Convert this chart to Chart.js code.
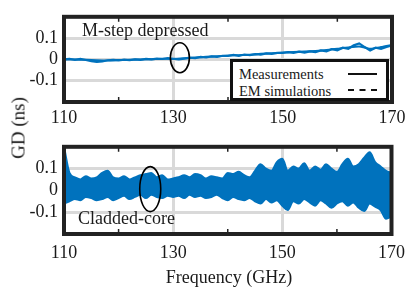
<!DOCTYPE html>
<html>
<head>
<meta charset="utf-8">
<script src="https://cdn.jsdelivr.net/npm/chart.js@4/dist/chart.umd.min.js"></script>
<style>
  body { margin: 0; background: #fff; width: 413px; height: 298px; position: relative; overflow: hidden;
         font-family: "Liberation Serif", "Times New Roman", serif; color: #1a1a1a; }
  canvas { position: absolute; left: 0; }
  .txt { position: absolute; white-space: nowrap; font-size: 18px; line-height: 1; }
  #legend { position: absolute; left: 230px; top: 59px; width: 159px; height: 42px; box-sizing: border-box;
            border: 3px solid #111; background: #fff; }
  #legend .lab { position: absolute; left: 6px; font-size: 14.5px; line-height: 1; white-space: nowrap; }
  #legend .sw { position: absolute; left: 115px; width: 29px; height: 0; }
</style>
</head>
<body>
<canvas id="top" width="413" height="130" style="top:0"></canvas>
<canvas id="bottom" width="413" height="168" style="top:130px"></canvas>

<div class="txt" style="left:82px;top:21px">M-step depressed</div>
<div class="txt" style="left:78px;top:209px">Cladded-core</div>
<div class="txt" style="left:229px;top:277px;transform:translate(-50%,-50%)">Frequency (GHz)</div>
<div class="txt" style="left:18px;top:128px;transform:translate(-50%,-50%) rotate(-90deg);font-size:19px">GD (ns)</div>

<div id="legend">
  <div class="lab" style="top:5px">Measurements</div>
  <div class="lab" style="top:22px">EM simulations</div>
  <div class="sw" style="top:11px;border-top:2px solid #111"></div>
  <div class="sw" style="top:27px;border-top:2px dashed #111"></div>
</div>

<script>
// frequency grid (GHz)
const freqs = [110,111,112,113,114,115,116,117,118,119,
  120,121,122,123,124,125,126,127,128,129,
  130,131,132,133,134,135,136,137,138,139,
  140,141,142,143,144,145,146,147,148,149,
  150,151,152,153,154,155,156,157,158,159,
  160,161,162,163,164,165,166,167,168,169,170];
const simFreqs = [110,112,114,116,118,120,122,124,126,128,
  130,132,134,136,138,140,142,144,146,148,
  150,152,154,156,158,160,162,164,166,168,170];

// M-step depressed (top panel), GD in ns
const mstepMeas = [0.000,0.003,-0.002,0.002,-0.003,-0.008,-0.012,-0.010,-0.004,-0.002,
  -0.005,-0.001,-0.004,0.000,-0.002,0.002,0.000,0.004,0.002,0.006,
  0.003,0.000,0.004,0.008,0.006,0.012,0.009,0.014,0.012,0.017,
  0.016,0.021,0.017,0.023,0.020,0.025,0.022,0.028,0.026,0.031,
  0.030,0.034,0.031,0.036,0.032,0.038,0.034,0.042,0.038,0.048,
  0.043,0.055,0.050,0.066,0.075,0.058,0.042,0.055,0.050,0.058,0.066];
const mstepSim = [0.000,0.000,-0.002,-0.004,-0.005,-0.003,-0.002,0.000,0.001,0.003,
  0.002,0.005,0.009,0.012,0.015,0.018,0.020,0.022,0.026,0.029,
  0.032,0.035,0.037,0.040,0.044,0.050,0.056,0.060,0.050,0.058,0.068];

// Cladded-core (bottom panel): upper and lower edge of the noisy trace
const cladUpper = [0.20,0.08,0.06,0.05,0.065,0.055,0.06,0.08,0.09,0.06,
  0.055,0.065,0.05,0.06,0.07,0.075,0.08,0.06,0.07,0.05,
  0.055,0.06,0.07,0.06,0.075,0.07,0.055,0.065,0.06,0.055,
  0.08,0.075,0.085,0.07,0.06,0.09,0.12,0.10,0.09,0.13,
  0.145,0.09,0.11,0.10,0.125,0.09,0.11,0.095,0.12,0.10,
  0.085,0.12,0.145,0.11,0.12,0.15,0.175,0.13,0.11,0.09,0.08];
const cladLower = [-0.06,-0.05,-0.04,-0.045,-0.03,-0.035,-0.045,-0.04,-0.03,-0.045,
  -0.035,-0.025,-0.04,-0.03,-0.02,-0.035,-0.02,-0.03,-0.035,-0.025,
  -0.03,-0.025,-0.035,-0.02,-0.03,-0.025,-0.035,-0.03,-0.02,-0.035,
  -0.045,-0.03,-0.04,-0.045,-0.035,-0.05,-0.06,-0.04,-0.055,-0.045,
  -0.07,-0.09,-0.05,-0.06,-0.04,-0.055,-0.07,-0.045,-0.06,-0.08,
  -0.06,-0.05,-0.07,-0.055,-0.08,-0.095,-0.06,-0.075,-0.09,-0.13,-0.12];

const xTicks = [110, 130, 150, 170];
const yTicks = [-0.1, 0, 0.1];

const BLUE = "#0072BD";
const FONT = { family: "'Liberation Serif', 'Times New Roman', serif", size: 18 };

const pts = (xs, ys) => xs.map((x, i) => ({ x: x, y: ys[i] }));
const r1 = v => Math.round(v * 10) / 10;

// thick box round the plot area, small inner ticks and the circled region
const framePlugin = {
  id: "frame",
  afterDraw(chart, args, opts) {
    const { ctx, chartArea: a, scales } = chart;
    ctx.save();
    ctx.strokeStyle = "#222";
    ctx.lineWidth = 1.5;
    [120, 140, 160].forEach(v => {
      const px = scales.x.getPixelForValue(v);
      ctx.beginPath();
      ctx.moveTo(px, a.bottom); ctx.lineTo(px, a.bottom - 5);
      ctx.moveTo(px, a.top); ctx.lineTo(px, a.top + 5);
      ctx.stroke();
    });
    ctx.lineWidth = 4;
    ctx.strokeRect(a.left, a.top, a.right - a.left, a.bottom - a.top);
    if (opts.ellipse) {
      const e = opts.ellipse;
      ctx.lineWidth = 1.6;
      ctx.strokeStyle = "#000";
      ctx.beginPath();
      ctx.ellipse(scales.x.getPixelForValue(e.x), scales.y.getPixelForValue(e.y), e.rx, e.ry, 0, 0, Math.PI * 2);
      ctx.stroke();
    }
    ctx.restore();
  }
};

function scales(xHeight, xPad) {
  return {
    x: {
      type: "linear", min: 110, max: 170,
      ticks: {
        stepSize: 10, autoSkip: false, maxRotation: 0, padding: xPad, color: "#1a1a1a", font: FONT,
        callback: v => xTicks.includes(v) ? String(v) : ""
      },
      grid: {
        drawTicks: false, lineWidth: 3,
        color: c => (c.tick && xTicks.includes(c.tick.value)) ? "#d9d9d9" : "rgba(0,0,0,0)"
      },
      border: { display: false },
      afterFit: a => { a.height = xHeight; }
    },
    y: {
      min: -0.2, max: 0.2,
      ticks: {
        stepSize: 0.1, autoSkip: false, padding: 6, color: "#1a1a1a", font: FONT,
        callback: v => yTicks.includes(r1(v)) ? String(r1(v)) : ""
      },
      grid: {
        drawTicks: false, lineWidth: 3,
        color: c => (c.tick && yTicks.includes(r1(c.tick.value))) ? "#d9d9d9" : "rgba(0,0,0,0)"
      },
      border: { display: false },
      afterFit: a => { a.width = 64; }
    }
  };
}

const common = {
  responsive: false,
  animation: false,
  devicePixelRatio: 1,
  events: [],
  plugins: { legend: { display: false }, tooltip: { enabled: false } },
  elements: { point: { radius: 0 } }
};

new Chart(document.getElementById("top"), {
  type: "line",
  data: {
    datasets: [
      { data: pts(simFreqs, mstepSim), borderColor: BLUE, borderWidth: 2, tension: 0.2 },
      { data: pts(freqs, mstepMeas), borderColor: BLUE, borderWidth: 2.2, tension: 0 }
    ]
  },
  options: Object.assign({}, common, {
    layout: { padding: { top: 9, right: 21, left: 0, bottom: 0 } },
    scales: scales(28, 5),
    plugins: Object.assign({}, common.plugins, { frame: { ellipse: { x: 131.2, y: 0.008, rx: 9.5, ry: 15 } } })
  }),
  plugins: [framePlugin]
});

new Chart(document.getElementById("bottom"), {
  type: "line",
  data: {
    datasets: [
      { data: pts(freqs, cladUpper), borderColor: BLUE, backgroundColor: BLUE, borderWidth: 2,
        fill: "+1", cubicInterpolationMode: "monotone" },
      { data: pts(freqs, cladLower), borderColor: BLUE, backgroundColor: BLUE, borderWidth: 2,
        fill: false, cubicInterpolationMode: "monotone" }
    ]
  },
  options: Object.assign({}, common, {
    layout: { padding: { top: 10, right: 21, left: 0, bottom: 0 } },
    scales: scales(64, 8),
    plugins: Object.assign({}, common.plugins, { frame: { ellipse: { x: 125.8, y: 0.006, rx: 10.5, ry: 22.5 } } })
  }),
  plugins: [framePlugin]
});
</script>
</body>
</html>
